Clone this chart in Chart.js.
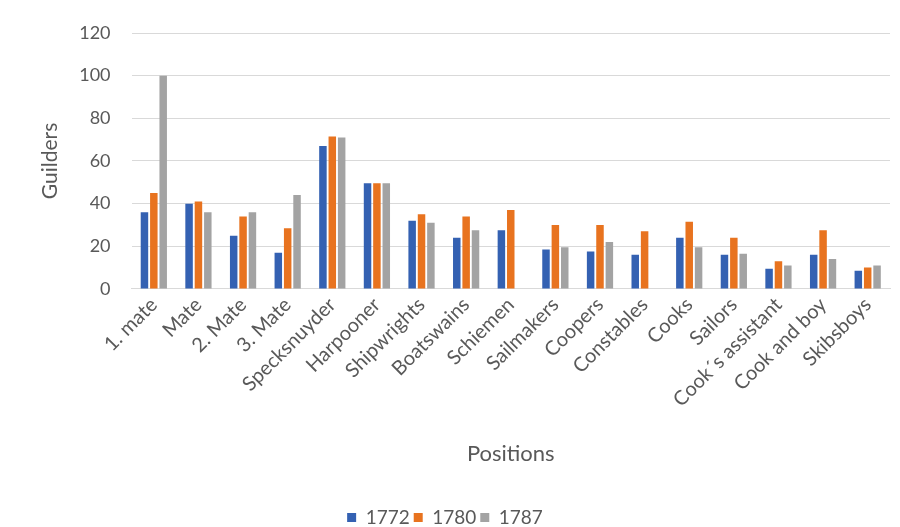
<!DOCTYPE html>
<html>
<head>
<meta charset="utf-8">
<script src="https://cdn.jsdelivr.net/npm/chart.js@4"></script>
<style>
  html, body { margin: 0; padding: 0; background: #fff; }
  #wrap { width: 900px; height: 527px; }
</style>
</head>
<body>
<div id="wrap"><canvas id="wageChart" width="900" height="527"></canvas></div>
<script>
const positions = ['1. mate', 'Mate', '2. Mate', '3. Mate', 'Specksnuyder', 'Harpooner', 'Shipwrights',
    'Boatswains', 'Schiemen', 'Sailmakers', 'Coopers', 'Constables', 'Cooks', 'Sailors',
    'Cook\u00b4s assistant', 'Cook and boy', 'Skibsboys'];
const years = ['1772', '1780', '1787'];
const wages1772 = [36, 40, 25, 17, 67, 49.5, 32, 24, 27.5, 18.5, 17.5, 16, 24, 16, 9.5, 16, 8.5];
const wages1780 = [45, 41, 34, 28.5, 71.5, 49.5, 35, 34, 37, 30, 30, 27, 31.5, 24, 13, 27.5, 10];
const wages1787 = [100, 36, 36, 44, 71, 49.5, 31, 27.5, null, 19.5, 22, null, 19.5, 16.5, 11, 14, 11];
const yTicks = [0, 20, 40, 60, 80, 100, 120];

const colors = ['#3461b2', '#e8731f', '#a3a3a3'];
const textColor = '#595959';
const fontFamily = 'Lato, "Open Sans", sans-serif';

const ctx = document.getElementById('wageChart').getContext('2d');

new Chart(ctx, {
    type: 'bar',
    data: {
        labels: positions,
        datasets: [wages1772, wages1780, wages1787].map((values, i) => ({
            label: years[i],
            data: values,
            backgroundColor: colors[i],
            borderWidth: 0,
            categoryPercentage: 0.63,
            barPercentage: 0.8
        }))
    },
    options: {
        responsive: false,
        animation: false,
        // negative bottom padding pushes the legend row down near the canvas edge
        layout: { padding: { top: 33, right: 10, left: 0, bottom: -10 } },
        scales: {
            x: {
                grid: { display: false, drawTicks: false },
                border: { color: '#d9d9d9' },
                ticks: {
                    autoSkip: false,
                    minRotation: 45,
                    maxRotation: 45,
                    padding: 4,
                    color: textColor,
                    font: { family: fontFamily, size: 20 }
                },
                title: {
                    display: true,
                    text: 'Positions',
                    color: textColor,
                    font: { family: fontFamily, size: 22 },
                    padding: { top: 25, bottom: 37 }
                }
            },
            y: {
                min: 0,
                max: 120,
                afterBuildTicks: axis => { axis.ticks = yTicks.map(v => ({ value: v })); },
                grid: { color: '#d9d9d9', drawTicks: false },
                border: { display: false },
                ticks: {
                    padding: 21,
                    color: textColor,
                    font: { family: fontFamily, size: 18 }
                },
                title: {
                    display: true,
                    text: 'Guilders',
                    color: textColor,
                    font: { family: fontFamily, size: 21 },
                    padding: { top: 38, bottom: -5 }
                }
            }
        },
        plugins: {
            legend: {
                position: 'bottom',
                labels: {
                    boxWidth: 9,
                    boxHeight: 9,
                    padding: 4,
                    color: textColor,
                    font: { family: fontFamily, size: 19 }
                }
            },
            tooltip: { enabled: false }
        }
    }
});
</script>
</body>
</html>
